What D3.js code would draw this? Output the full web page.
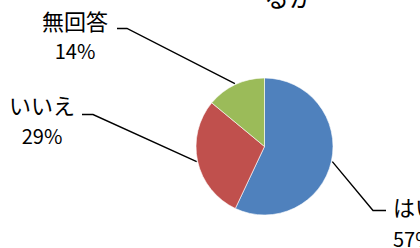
<!DOCTYPE html>
<html>
<head>
<meta charset="utf-8">
<script src="https://cdn.jsdelivr.net/npm/d3@7"></script>
<style>
  html, body { margin: 0; padding: 0; background: #fff; }
  svg { display: block; }
  text { font-family: "Noto Sans CJK JP", "Noto Sans", sans-serif; fill: #000; }
</style>
</head>
<body>
<svg id="chart"></svg>
<script>
// ========== DATA ==========
var categories = ['はい', 'いいえ', '無回答'];
var values = [57, 29, 14];
var percentLabels = ['57%', '29%', '14%'];
var titleTail = 'るか';

// ========== STYLE ==========
var colors = ['#4f81bd', '#c0504d', '#9bbb59'];
var width = 420;
var height = 248;
var cx = 264.5;
var cy = 146.5;
var radius = 68.5;

// label layout: text x, two baselines, leader elbow and end
var labelLayout = [
	{ x: 393, y1: 216, y2: 247, anchor: 'start', elbowX: 373, elbowY: 210.5, endX: 386 },
	{ x: 42, y1: 114, y2: 144, anchor: 'middle', elbowX: 93, elbowY: 114.5, endX: 82 },
	{ x: 75, y1: 30, y2: 59, anchor: 'middle', elbowX: 127, elbowY: 28.5, endX: 117 }
];

var svg = d3.select('#chart')
	.attr('width', width)
	.attr('height', height);

// title (only the end of its last line is visible)
svg.append('text')
	.attr('x', 289)
	.attr('y', 7)
	.attr('text-anchor', 'middle')
	.style('font-size', '25px')
	.text(titleTail);

var pie = d3.pie()
	.sort(null)
	.value(function(d) { return d; });

var arc = d3.arc()
	.innerRadius(0)
	.outerRadius(radius);

var slices = pie(values);

var g = svg.append('g')
	.attr('transform', 'translate(' + cx + ',' + cy + ')');

g.selectAll('.slice')
	.data(slices).enter().append('path')
		.attr('class', 'slice')
		.attr('d', arc)
		.attr('fill', function(d, i) { return colors[i]; })
		.attr('stroke', '#ffffff')
		.attr('stroke-width', 0.6);

// leader lines from mid angle of each slice
var leaders = svg.append('g');
slices.forEach(function(d, i) {
	var a = (d.startAngle + d.endAngle) / 2;
	var px = cx + Math.sin(a) * (radius + 1);
	var py = cy - Math.cos(a) * (radius + 1);
	var l = labelLayout[i];
	leaders.append('path')
		.attr('d', d3.line()([[px, py], [l.elbowX, l.elbowY], [l.endX, l.elbowY]]))
		.attr('fill', 'none')
		.attr('stroke', '#000')
		.attr('stroke-width', 1.4);
});

// labels
var labels = svg.selectAll('.label')
	.data(categories).enter().append('g')
		.attr('class', 'label');

labels.append('text')
	.attr('x', function(d, i) { return labelLayout[i].x; })
	.attr('y', function(d, i) { return labelLayout[i].y1; })
	.attr('text-anchor', function(d, i) { return labelLayout[i].anchor; })
	.style('font-size', '22px')
	.text(function(d) { return d; });

labels.append('text')
	.attr('x', function(d, i) { return labelLayout[i].x; })
	.attr('y', function(d, i) { return labelLayout[i].y2; })
	.attr('text-anchor', function(d, i) { return labelLayout[i].anchor; })
	.style('font-size', '20px')
	.text(function(d, i) { return percentLabels[i]; });
</script>
</body>
</html>
